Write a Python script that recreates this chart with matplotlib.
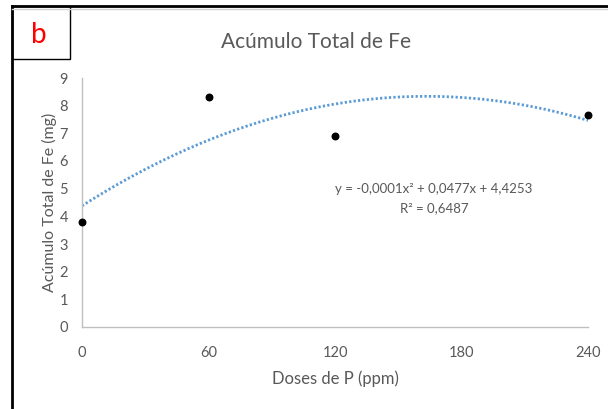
import numpy as np
import matplotlib.pyplot as plt
from matplotlib.patches import Rectangle
from matplotlib.lines import Line2D

doses = [0, 60, 120, 240]
fe_total = [3.8, 8.3, 6.9, 7.66]
x_ticks = [0, 60, 120, 180, 240]
y_ticks = list(range(10))
equation = "y = -0,0001x² + 0,0477x + 4,4253"
r2_text = "R² = 0,6487"

plt.rcParams['font.family'] = ['Lato', 'DejaVu Sans']
gray = '#595959'

fig = plt.figure(figsize=(6.08, 4.09), dpi=100)
ax = fig.add_axes([82 / 608, 82 / 409, 506 / 608, 249 / 409])

# quadratic trendline fitted to the points
coef = np.polyfit(doses, fe_total, 2)
xs = np.linspace(0, 240, 300)
ax.plot(xs, np.polyval(coef, xs), color='#5B9BD5', lw=2, ls=(0, (0.8, 0.8)), zorder=2)
ax.scatter(doses, fe_total, s=22, color='black', zorder=3, clip_on=False)

ax.set_xlim(0, 240)
ax.set_ylim(0, 9)
ax.set_xticks(x_ticks)
ax.set_yticks(y_ticks)
ax.tick_params(length=0, labelsize=10.5, colors=gray)
ax.tick_params(axis='y', pad=10)
ax.tick_params(axis='x', pad=14)
for s in ['top', 'right']:
    ax.spines[s].set_visible(False)
for s in ['left', 'bottom']:
    ax.spines[s].set_color('#bfbfbf')
    ax.spines[s].set_linewidth(1)

ax.set_xlabel("Doses de P (ppm)", fontsize=12, color=gray, labelpad=7)
ax.set_ylabel("Acúmulo Total de Fe (mg)", fontsize=11.5, color=gray, labelpad=2)

fig.text(316 / 608, 1 - 42 / 409, "Acúmulo Total de Fe", fontsize=15, color=gray,
         ha='center', va='center')
fig.text(434 / 608, 1 - 189 / 409, equation, fontsize=9.5, color=gray, ha='center', va='center')
fig.text(434 / 608, 1 - 208 / 409, r2_text, fontsize=9.5, color=gray, ha='center', va='center')

# outer frame and "b" label box
fig.add_artist(Line2D([12 / 608, 12 / 608], [0, 1 - 6 / 409], transform=fig.transFigure,
                      color='black', lw=2))
fig.add_artist(Line2D([12 / 608, 1], [1 - 6 / 409, 1 - 6 / 409], transform=fig.transFigure,
                      color='black', lw=2))
fig.add_artist(Line2D([12 / 608, 1], [1 - 9 / 409, 1 - 9 / 409], transform=fig.transFigure,
                      color='#d0d0d0', lw=1))
fig.add_artist(Rectangle((12 / 608, 1 - 59 / 409), 58 / 608, 53 / 409, transform=fig.transFigure,
                         fill=True, facecolor='white', edgecolor='black', lw=1))
fig.text(39 / 608, 1 - 35 / 409, "b", fontsize=20, color='red', ha='center', va='center')

fig.savefig("out.png", dpi=100)
